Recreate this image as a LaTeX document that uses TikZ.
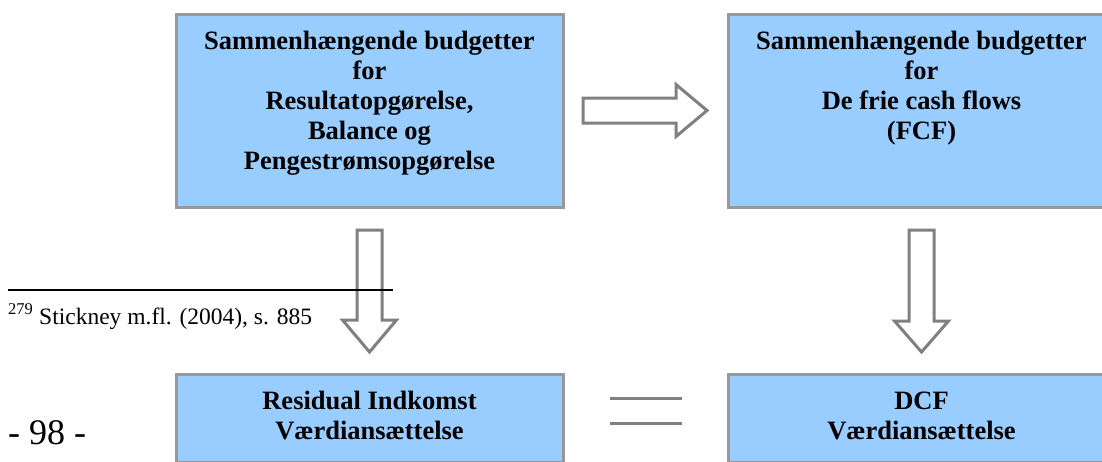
\documentclass[tikz,border=0pt]{standalone}
\usepackage{fontspec}
\setmainfont{Liberation Serif}
\usetikzlibrary{positioning,calc}
\definecolor{boxblue}{RGB}{153,204,255}
\definecolor{boxgray}{RGB}{152,152,152}
\definecolor{arrowgray}{RGB}{128,128,128}
\tikzset{
	budbox/.style={draw=boxgray, line width=3pt, fill=boxblue, minimum width=387pt, inner sep=0pt, outer sep=0pt, align=center,
		font=\fontsize{26.5}{30}\selectfont\bfseries},
	blockarrow/.style={draw=arrowgray, line width=3pt, fill=white, line join=miter},
	equalline/.style={draw=arrowgray, line width=3pt}}

\begin{document}
\begin{tikzpicture}[x=1pt,y=-1pt]
	\useasboundingbox (0,0) rectangle (1102,461);
	\clip (0,0) rectangle (1102,461);

	% Boxes
	\node[budbox, text height=155pt, text depth=38pt, anchor=north] (resbud) at (369.5,14) {Sammenhængende budgetter\\for\\Resultatopgørelse,\\Balance og\\Pengestrømsopgørelse};
	\node[budbox, text height=125pt, text depth=68pt, right=165pt of resbud] (fcfbud) {Sammenhængende budgetter\\for\\De frie cash flows\\(FCF)};
	\node[budbox, text height=65pt, text depth=23pt, below=167pt of resbud] (resind) {Residual Indkomst\\Værdiansættelse};
	\node[budbox, text height=65pt, text depth=23pt, below=167pt of fcfbud] (dcf) {DCF\\Værdiansættelse};

	% Right Arrow
	\coordinate (harA) at ($(resbud.east)+(20,0)$);
	\coordinate (harB) at ($(fcfbud.west)+(-21,0)$);
	\draw[blockarrow] ($(harA)+(0,-12.5)$) -- ($(harB)+(-31,-12.5)$) -- ($(harB)+(-31,-26)$) -- (harB) -- ($(harB)+(-31,26)$) -- ($(harB)+(-31,12.5)$) -- ($(harA)+(0,12.5)$) -- cycle;
	% Down Arrow left
	\coordinate (varA) at ($(resbud.south)+(0,23)$);
	\coordinate (varB) at ($(resind.north)+(0,-22)$);
	\draw[blockarrow] ($(varA)+(-12.5,0)$) -- ($(varA)+(12.5,0)$) -- ($(varB)+(12.5,-32)$) -- ($(varB)+(27,-32)$) -- (varB) -- ($(varB)+(-27,-32)$) -- ($(varB)+(-12.5,-32)$) -- cycle;
	% Down Arrow right
	\coordinate (vbrA) at ($(fcfbud.south)+(0,23)$);
	\coordinate (vbrB) at ($(dcf.north)+(0,-22)$);
	\draw[blockarrow] ($(vbrA)+(-12.5,0)$) -- ($(vbrA)+(12.5,0)$) -- ($(vbrB)+(12.5,-31)$) -- ($(vbrB)+(27,-31)$) -- (vbrB) -- ($(vbrB)+(-27,-31)$) -- ($(vbrB)+(-12.5,-31)$) -- cycle;

	% Equal sign
	\draw[equalline] ($(resind.east)+(47,-20)$) -- ($(dcf.west)+(-46,-20)$);
	\draw[equalline] ($(resind.east)+(47,5)$) -- ($(dcf.west)+(-46,5)$);

	% Footnote
	\draw[line width=2pt] (8,290) -- (393,290);
	\node[anchor=base west, inner sep=0pt] (fnote) at (8,324) {\fontsize{23.5}{28}\selectfont\textsuperscript{279} Stickney m.fl. (2004), s. 885};
	% Page number
	\node[anchor=base west, inner sep=0pt] (pagenum) at (8,444) {\fontsize{36}{40}\selectfont - 98 -};
\end{tikzpicture}
\end{document}
